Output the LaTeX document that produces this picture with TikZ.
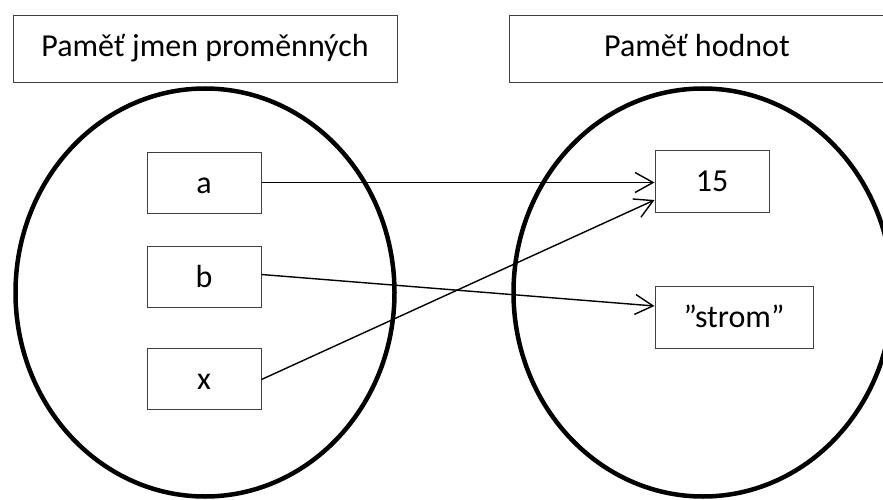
\documentclass[tikz,border=0pt]{standalone}
\usepackage{fontspec}
\setmainfont{Carlito}
\usetikzlibrary{arrows.meta}
\begin{document}
\begin{tikzpicture}[x=1pt,y=-1pt,
  every node/.style={font=\fontsize{32}{38}\selectfont},
  varbox/.style={draw=black!75, line width=1pt, rectangle, inner sep=0pt,
    minimum width=114pt, text height=41pt, text depth=20pt},
  titlebox/.style={draw=black!75, line width=1pt, rectangle, inner sep=0pt,
    text height=41pt, text depth=26pt},
  memory/.style={line width=4.5pt},
  link/.style={line width=1.4pt, -{Straight Barb[length=18pt,width=20pt]}}]
\clip (0,0) rectangle (883,500);
% memories
\draw[memory] (205,292.5) ellipse [x radius=189.5pt, y radius=204pt];
\draw[memory] (703,292.5) ellipse [x radius=189.5pt, y radius=204pt];
% titles
\node[titlebox, minimum width=384pt] (tl) at (205,49.5) {Paměť jmen proměnných};
\node[titlebox, minimum width=376pt] (tr) at (697,49.5) {Paměť hodnot};
% variable boxes
\node[varbox] (a) at (204,182.5) {a};
\node[varbox] (b) at (204,276.5) {b};
\node[varbox] (x) at (204,378.5) {x};
% value boxes
\node[varbox, text depth=21pt] (v15) at (712,181) {15};
\node[varbox, minimum width=158pt, text depth=21pt] (vs) at (734,317) {”strom”};
% links
\draw[link] (a.east) -- (a.east -| v15.west);
\draw[link] ([yshift=2pt]b.east) -- ([yshift=11pt]vs.west);
\draw[link] ([yshift=-1pt]x.east) -- ([yshift=-19pt]v15.west);
\end{tikzpicture}
\end{document}
